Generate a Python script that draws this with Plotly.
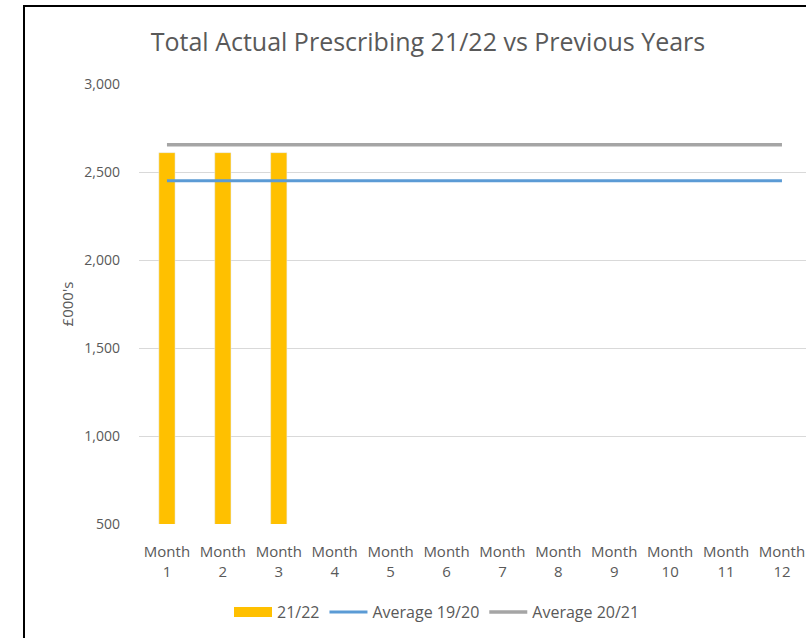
import plotly.graph_objects as go

# Monthly categories and values (£000's)
months = ["Month 1", "Month 2", "Month 3", "Month 4", "Month 5", "Month 6",
          "Month 7", "Month 8", "Month 9", "Month 10", "Month 11", "Month 12"]
month_labels = ["Month<br>1", "Month<br>2", "Month<br>3", "Month<br>4", "Month<br>5",
                "Month<br>6", "Month<br>7", "Month<br>8", "Month<br>9", "Month<br>10",
                "Month<br>11", "Month<br>12"]
actual_2122 = [2610, 2610, 2610, None, None, None, None, None, None, None, None, None]
avg_1920 = [2450, 2450, 2450, 2450, 2450, 2450, 2450, 2450, 2450, 2450, 2450, 2450]
avg_2021 = [2655, 2655, 2655, 2655, 2655, 2655, 2655, 2655, 2655, 2655, 2655, 2655]
y_ticks = [500, 1000, 1500, 2000, 2500, 3000]

ORANGE = "#FFC000"
BLUE = "#5B9BD5"
GREY = "#A5A5A5"
TEXT = "#595959"
FONT = "Open Sans, Liberation Sans, sans-serif"

fig = go.Figure()

fig.add_trace(go.Bar(
    x=months, y=actual_2122, name="21/22", marker_color=ORANGE,
    width=0.29, showlegend=False,
))
# wide swatch for the bar series in the legend
fig.add_trace(go.Scatter(
    x=[None], y=[None], mode="lines", name="21/22",
    line=dict(color=ORANGE, width=10),
))
fig.add_trace(go.Scatter(
    x=months, y=avg_1920, mode="lines", name="Average 19/20",
    line=dict(color=BLUE, width=3),
))
fig.add_trace(go.Scatter(
    x=months, y=avg_2021, mode="lines", name="Average 20/21",
    line=dict(color=GREY, width=3.5),
))

L, T, B = 139, 84, 114
W, H = 806, 638
pw = W - L
ph = H - T - B

def px_x(p):
    return (p - L) / pw

def px_y(p):
    return (H - B - p) / ph

fig.update_layout(
    width=W, height=H,
    margin=dict(l=L, r=0, t=T, b=B, pad=0),
    paper_bgcolor="white", plot_bgcolor="white",
    font=dict(family=FONT, color=TEXT, size=15),
    title=dict(
        text="Total Actual Prescribing 21/22 vs Previous Years",
        font=dict(size=25, color=TEXT, family=FONT),
        x=428 / W, xanchor="center", xref="container",
        y=1 - 42 / H, yanchor="middle", yref="container",
    ),
    xaxis=dict(
        type="category", categoryorder="array", categoryarray=months,
        tickmode="array", tickvals=months, ticktext=month_labels,
        range=[-0.5, 11.43], showgrid=False, zeroline=False, showline=False,
        ticks="", tickfont=dict(size=15, color=TEXT), ticklabelstandoff=17,
    ),
    yaxis=dict(
        range=[500, 3000], tickvals=y_ticks, tickformat=",",
        showgrid=True, gridcolor="#D9D9D9", gridwidth=1, zeroline=False,
        showline=False, ticks="", tickfont=dict(size=14, color=TEXT),
        ticklabelstandoff=18,
        title=dict(text="£000's", font=dict(size=15, color=TEXT), standoff=7),
    ),
    legend=dict(
        orientation="h", x=px_x(437), xanchor="center",
        y=px_y(612), yanchor="middle",
        font=dict(size=16, color=TEXT), itemwidth=38,
        entrywidth=0, tracegroupgap=0,
        bgcolor="rgba(0,0,0,0)",
    ),
    shapes=[
        dict(type="line", xref="paper", yref="paper",
             x0=px_x(24), x1=px_x(24), y0=px_y(6), y1=px_y(640),
             line=dict(color="black", width=2)),
        dict(type="line", xref="paper", yref="paper",
             x0=px_x(23), x1=px_x(810), y0=px_y(6), y1=px_y(6),
             line=dict(color="black", width=2)),
    ],
)

fig.write_html("out.html")
